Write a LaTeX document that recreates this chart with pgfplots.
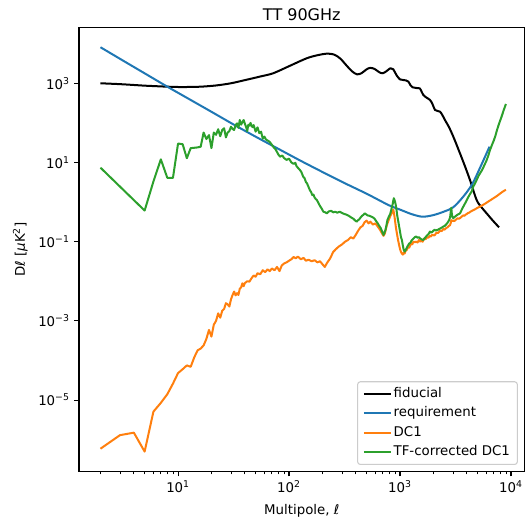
\documentclass[border=0pt]{standalone}
\usepackage{fontspec}
\setmainfont{DejaVu Sans}
\usepackage{pgfplots}
\pgfplotsset{compat=1.18}
\definecolor{mplblue}{HTML}{1F77B4}
\definecolor{mplorange}{HTML}{FF7F0E}
\definecolor{mplgreen}{HTML}{2CA02C}
\begin{document}
\begin{tikzpicture}
\begin{axis}[name=ax, scale only axis, width=334pt, height=333pt,
  xmode=log, ymode=log,
  xmin=1.282, xmax=13240, ymin=1.556e-7, ymax=2.564e4,
  xtick={10,100,1000,10000},
  xticklabels={10\textsuperscript{1},10\textsuperscript{2},10\textsuperscript{3},10\textsuperscript{4}},
  minor xtick={2,3,...,9,20,30,...,90,200,300,...,900,2000,3000,...,9000},
  ytick={1e-5,1e-3,1e-1,1e1,1e3},
  yticklabels={10\textsuperscript{−5},10\textsuperscript{−3},10\textsuperscript{−1},10\textsuperscript{1},10\textsuperscript{3}},
  yminorticks=false,
  tick pos=left, tick align=outside,
  major tick length=3.5pt, minor tick length=2pt,
  every major tick/.style={black, line width=0.8pt},
  every minor tick/.style={black, line width=0.6pt},
  axis line style={line width=0.8pt},
  tick label style={font=\fontsize{10}{12}\selectfont},
  title={TT 90GHz},
  every axis title/.style={at={(rel axis cs:0.5,1)}, anchor=base, yshift=5.1pt, font=\fontsize{12}{14}\selectfont},
  xlabel={Multipole, \textit{ℓ}},
  every axis x label/.style={at={(rel axis cs:0.5,0)}, anchor=base, yshift=-32.5pt, font=\fontsize{10}{12}\selectfont},
  ylabel={D\textit{ℓ} [\textit{μ}K\textsuperscript{2}]},
  every axis y label/.style={at={(rel axis cs:0,0.5)}, anchor=center, xshift=-44pt, rotate=90, font=\fontsize{10}{12}\selectfont},
  legend cell align=left,
  legend image code/.code={\draw[#1] (0pt,0pt) -- (20pt,0pt);},
  legend style={at={(1,0)}, anchor=south east, xshift=-5pt, yshift=5pt,
    draw=black!20, fill=white, fill opacity=0.8, text opacity=1,
    rounded corners=2pt, line width=0.8pt,
    font=\fontsize{10}{12}\selectfont,
    nodes={inner sep=1.5pt, text height=7.3pt, text depth=2.2pt},
    row sep=2pt, inner xsep=4pt, inner ysep=3pt},
]
\addplot[black, line width=1.5pt, line join=round, smooth] coordinates {
(2,1000)(3,950)(4,905)(5,870)(6,850)(8,820)(10,805)(12,805)(16,820)(22,880)(30,1000)(40,1200)(55,1480)(72,1790)(100,2700)(144,4270)(180,5100)(220,5600)(255,5300)(290,4200)(330,2800)(370,2000)(410,1680)(450,1800)(500,2250)(540,2450)(590,2300)(650,1900)(700,1790)(760,2050)(820,2400)(870,2250)(930,1600)(1000,1250)(1070,1210)(1130,1180)(1190,1100)(1240,900)(1300,790)(1400,760)(1510,740)(1570,600)(1620,507)(1700,450)(1860,380)(1960,300)(2065,212)(2180,200)(2290,192)(2400,160)(2540,118)(2750,80)(3020,45)(3470,17)(3850,8)(4270,3.6)(4900,1.13)(5400,0.75)(6030,0.52)(6800,0.35)(7800,0.23)
};
\addlegendentry{fiducial}
\addplot[mplblue, line width=1.5pt, line join=round, smooth] coordinates {
(2,8128)(3.16,3802)(5.01,1778)(7.94,832)(12.6,398)(20,190.5)(31.6,91.2)(50.1,44.7)(79.4,22.4)(126,11.2)(200,5.75)(316,3.02)(501,1.62)(794,0.832)(1000,0.646)(1259,0.501)(1585,0.427)(1995,0.468)(2512,0.58)(3020,0.74)(3715,1.37)(4467,2.82)(5248,7.24)(6400,25)
};
\addlegendentry{requirement}
\addplot[mplorange, line width=1.5pt, line join=round] coordinates {
(2,5.9e-7)(3,1.3e-6)(4,1.5e-6)(5,5.0e-7)(6,5.1e-6)(7,8.5e-6)(8,1.4e-5)(9,2.6e-5)(10,4.8e-5)(11,6.0e-5)(12,7.5e-5)(13,6.9e-5)(14,1.2e-4)(15,1.8e-4)(16,2.0e-4)(17,2.4e-4)(18,3.5e-4)(19,5.9e-4)(20,4.0e-4)(21,8.0e-4)(22,1.0e-3)(23,1.55e-3)(24,1.2e-3)(25,1.8e-3)(26,2.0e-3)(27,2.8e-3)(28,2.6e-3)(29,2.3e-3)(30,3.5e-3)(31,4.5e-3)(32,5.5e-3)(33,4.4e-3)(34,5.0e-3)(35,4.5e-3)(36,6.5e-3)(37,7.0e-3)(38,8.9e-3)(39,7.5e-3)(40,9.0e-3)(42,1.0e-2)(44,9.8e-3)(46,1.2e-2)(48,1.4e-2)(50,1.3e-2)(52,1.6e-2)(55,1.5e-2)(58,1.9e-2)(61,1.7e-2)(64,2.0e-2)(67,1.8e-2)(70,2.1e-2)(74,1.9e-2)(78,2.3e-2)(82,1.8e-2)(86,2.5e-2)(90,2.8e-2)(95,3.0e-2)(100,3.3e-2)(105,3.6e-2)(110,4.1e-2)(115,3.8e-2)(120,4.2e-2)(128,3.6e-2)(135,3.9e-2)(142,3.3e-2)(150,3.5e-2)(160,3.2e-2)(170,3.4e-2)(180,3.0e-2)(190,3.2e-2)(200,2.7e-2)(210,2.3e-2)(220,2.9e-2)(235,3.8e-2)(250,5.5e-2)(265,6.5e-2)(280,7.5e-2)(300,8.5e-2)(320,0.10)(340,0.11)(360,0.13)(380,0.12)(400,0.15)(420,0.19)(440,0.23)(460,0.25)(480,0.31)(500,0.34)(520,0.29)(540,0.32)(570,0.27)(600,0.29)(630,0.24)(660,0.20)(690,0.16)(710,0.14)(730,0.16)(760,0.26)(790,0.35)(820,0.45)(850,0.55)(870,0.65)(890,0.45)(920,0.22)(960,0.11)(1000,0.065)(1020,0.055)(1040,0.050)(1060,0.047)(1080,0.053)(1100,0.050)(1120,0.058)(1150,0.062)(1180,0.072)(1210,0.070)(1250,0.088)(1290,0.085)(1320,0.10)(1360,0.097)(1400,0.10)(1440,0.095)(1480,0.11)(1520,0.10)(1560,0.105)(1600,0.10)(1650,0.12)(1700,0.115)(1750,0.13)(1800,0.125)(1850,0.14)(1900,0.135)(1950,0.15)(2000,0.145)(2050,0.145)(2100,0.16)(2150,0.17)(2200,0.165)(2300,0.19)(2380,0.185)(2450,0.21)(2520,0.20)(2600,0.22)(2680,0.23)(2750,0.25)(2820,0.26)(2870,0.30)(2900,0.35)(2950,0.33)(3000,0.34)(3080,0.33)(3150,0.35)(3230,0.37)(3300,0.39)(3400,0.38)(3500,0.40)(3600,0.43)(3700,0.46)(3800,0.45)(3900,0.48)(4000,0.50)(4100,0.53)(4200,0.54)(4300,0.57)(4450,0.60)(4600,0.63)(4800,0.67)(5000,0.72)(5200,0.76)(5400,0.80)(5600,0.85)(5800,0.90)(6050,0.97)(6300,1.05)(6550,1.12)(6800,1.2)(7100,1.3)(7400,1.4)(7700,1.52)(8000,1.65)(8300,1.78)(8600,1.9)(9000,2.05)
};
\addlegendentry{DC1}
\addplot[mplgreen, line width=1.5pt, line join=round] coordinates {
(2,7.4)(3,2.45)(4,1.12)(5,0.61)(6,3.3)(7,12)(8,4.1)(9,4.1)(10,30)(11,29)(12,12.8)(13,23)(14,23.5)(15,24)(16,25)(17,57)(18,39)(19,49)(20,23)(21,57)(22,50)(23,69)(24,46)(25,66)(26,73)(27,43)(28,57)(29,62)(30,80)(31,70)(32,66)(33,88)(34,97)(35,75)(36,118)(37,90)(38,105)(39,118)(40,95)(41,80)(42,62)(43,90)(44,85)(45,100)(46,83)(47,78)(48,88)(50,60)(52,77)(54,55)(56,60)(58,40)(60,45)(62,38)(64,36)(67,33)(70,28)(72,25)(76,21)(80,16)(83,14)(87,15)(90,13)(95,11.6)(100,12.5)(105,10)(110,9.2)(114,9.8)(117,8.0)(121,7.2)(125,6.5)(129,5.8)(134,4.4)(138,4.0)(142,3.2)(145,3.0)(150,2.4)(154,2.0)(158,1.8)(162,1.5)(166,1.55)(170,1.3)(174,1.2)(178,1.13)(184,0.95)(190,0.8)(196,0.7)(204,0.57)(212,0.55)(219,0.52)(228,0.58)(240,0.6)(250,0.55)(260,0.57)(272,0.54)(287,0.57)(300,0.53)(315,0.50)(330,0.48)(345,0.45)(353,0.43)(367,0.40)(380,0.38)(395,0.34)(407,0.32)(420,0.35)(430,0.37)(445,0.42)(455,0.45)(470,0.48)(480,0.52)(495,0.49)(510,0.46)(530,0.45)(550,0.43)(570,0.41)(590,0.38)(610,0.33)(630,0.29)(650,0.25)(670,0.22)(690,0.18)(710,0.148)(725,0.17)(740,0.2)(755,0.26)(770,0.35)(785,0.4)(800,0.45)(815,0.5)(830,0.6)(845,0.75)(860,0.9)(870,1.1)(880,1.25)(890,1.15)(900,1.05)(915,0.85)(930,0.63)(945,0.45)(960,0.35)(980,0.25)(1000,0.18)(1020,0.13)(1040,0.11)(1060,0.08)(1080,0.062)(1100,0.056)(1120,0.06)(1150,0.07)(1180,0.08)(1210,0.09)(1240,0.094)(1280,0.11)(1320,0.12)(1360,0.13)(1400,0.135)(1440,0.125)(1480,0.13)(1520,0.12)(1560,0.115)(1620,0.11)(1660,0.12)(1700,0.13)(1740,0.14)(1780,0.15)(1820,0.16)(1860,0.18)(1900,0.17)(1950,0.175)(2000,0.19)(2050,0.2)(2100,0.19)(2140,0.196)(2200,0.2)(2260,0.21)(2330,0.22)(2400,0.23)(2450,0.24)(2530,0.25)(2600,0.27)(2680,0.3)(2770,0.35)(2830,0.42)(2870,0.6)(2900,0.72)(2930,0.5)(2970,0.42)(3020,0.39)(3100,0.42)(3200,0.45)(3300,0.48)(3400,0.5)(3470,0.52)(3560,0.6)(3650,0.7)(3750,0.8)(3860,0.93)(3980,1.1)(4100,1.3)(4250,1.55)(4420,1.85)(4570,2.45)(4750,3.0)(4900,3.6)(5100,4.6)(5300,5.5)(5500,6.5)(5750,8.5)(6000,11)(6250,15)(6470,20.7)(6750,28)(7000,36)(7250,48)(7480,66)(7800,95)(8200,140)(8600,210)(9000,300)
};
\addlegendentry{TF-corrected DC1}
\end{axis}
\pgfresetboundingbox
\useasboundingbox ([xshift=-59.25pt,yshift=-37pt]ax.south west) rectangle ([xshift=1.1pt,yshift=20.6pt]ax.north east);
\end{tikzpicture}
\end{document}
